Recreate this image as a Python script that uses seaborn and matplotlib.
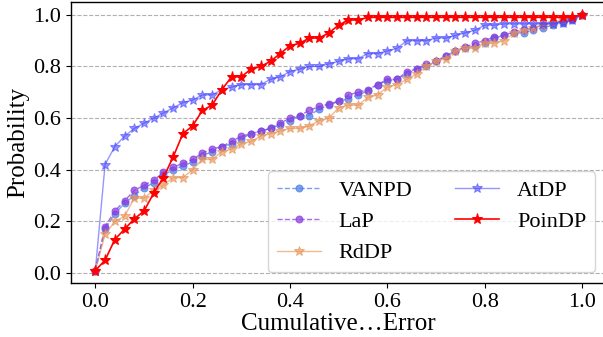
import matplotlib
matplotlib.use("Agg")
import matplotlib.pyplot as plt
import seaborn as sns
import numpy as np

# x grid of the cumulative error
x_vals = [0.00, 0.02, 0.04, 0.06, 0.08, 0.10, 0.12, 0.14, 0.16, 0.18,
          0.20, 0.22, 0.24, 0.26, 0.28, 0.30, 0.32, 0.34, 0.36, 0.38,
          0.40, 0.42, 0.44, 0.46, 0.48, 0.50, 0.52, 0.54, 0.56, 0.58,
          0.60, 0.62, 0.64, 0.66, 0.68, 0.70, 0.72, 0.74, 0.76, 0.78,
          0.80, 0.82, 0.84, 0.86, 0.88, 0.90, 0.92, 0.94, 0.96, 0.98, 1.00]

vanpd = [0.01, 0.17, 0.23, 0.27, 0.30, 0.33, 0.35, 0.38, 0.40, 0.415,
         0.43, 0.455, 0.47, 0.49, 0.50, 0.52, 0.54, 0.55, 0.56, 0.575,
         0.59, 0.61, 0.61, 0.635, 0.65, 0.665, 0.675, 0.69, 0.705, 0.73,
         0.745, 0.75, 0.77, 0.79, 0.80, 0.82, 0.84, 0.86, 0.87, 0.88,
         0.89, 0.91, 0.92, 0.93, 0.93, 0.94, 0.95, 0.96, 0.97, 0.98, 1.00]

lap = [0.01, 0.18, 0.24, 0.28, 0.32, 0.34, 0.36, 0.39, 0.41, 0.425,
       0.44, 0.465, 0.48, 0.49, 0.51, 0.53, 0.54, 0.55, 0.56, 0.58,
       0.60, 0.61, 0.63, 0.645, 0.655, 0.665, 0.69, 0.70, 0.71, 0.73,
       0.75, 0.75, 0.78, 0.79, 0.81, 0.82, 0.84, 0.86, 0.875, 0.89,
       0.90, 0.915, 0.92, 0.935, 0.94, 0.95, 0.96, 0.97, 0.975, 0.985, 1.00]

rddp = [0.01, 0.15, 0.20, 0.22, 0.29, 0.29, 0.32, 0.34, 0.37, 0.37,
        0.40, 0.44, 0.44, 0.47, 0.48, 0.50, 0.51, 0.53, 0.54, 0.55,
        0.56, 0.56, 0.57, 0.59, 0.60, 0.64, 0.65, 0.65, 0.68, 0.69,
        0.72, 0.73, 0.75, 0.77, 0.80, 0.82, 0.83, 0.86, 0.87, 0.87,
        0.89, 0.89, 0.90, 0.93, 0.94, 0.95, 0.96, 0.97, 0.98, 0.99, 1.00]

atdp = [0.01, 0.42, 0.49, 0.53, 0.56, 0.58, 0.60, 0.62, 0.64, 0.66,
        0.67, 0.69, 0.69, 0.71, 0.72, 0.73, 0.73, 0.73, 0.75, 0.76,
        0.78, 0.79, 0.80, 0.80, 0.81, 0.82, 0.83, 0.83, 0.85, 0.85,
        0.86, 0.87, 0.90, 0.90, 0.90, 0.91, 0.91, 0.92, 0.93, 0.94,
        0.96, 0.96, 0.965, 0.965, 0.965, 0.965, 0.965, 0.965, 0.97, 0.98, 1.00]

poindp = [0.01, 0.05, 0.13, 0.17, 0.21, 0.24, 0.31, 0.37, 0.45, 0.54,
          0.57, 0.63, 0.65, 0.71, 0.76, 0.76, 0.79, 0.80, 0.82, 0.85,
          0.88, 0.89, 0.91, 0.91, 0.93, 0.96, 0.98, 0.98, 0.99, 0.99,
          0.99, 0.99, 0.99, 0.99, 0.99, 0.99, 0.99, 0.99, 0.99, 0.99,
          0.99, 0.99, 0.99, 0.99, 0.99, 0.99, 0.99, 0.99, 0.99, 0.99, 1.00]

series_names = ["VANPD", "LaP", "RdDP", "AtDP", "PoinDP"]
series_values = [vanpd, lap, rddp, atdp, poindp]
tick_vals = [0.0, 0.2, 0.4, 0.6, 0.8, 1.0]
tick_labels = ["0.0", "0.2", "0.4", "0.6", "0.8", "1.0"]

plt.rcParams['font.family'] = 'serif'
plt.rcParams['font.serif'] = ['Liberation Serif', 'DejaVu Serif']

SERIF = 'Liberation Serif'

fig = plt.figure(figsize=(6.03, 3.37), dpi=100)
W, H = 603, 337
ax = fig.add_axes([71 / W, (H - 283.3) / H, 535.3 / W, 281.3 / H])

styles = {
    "VANPD": dict(color="#4f7fe8", marker="o", linestyle="--", alpha=0.75, markersize=5, linewidth=1.0),
    "LaP": dict(color="#8a3fe0", marker="o", linestyle="--", alpha=0.75, markersize=5, linewidth=1.0),
    "RdDP": dict(color="#e8955a", marker="*", linestyle="-", alpha=0.65, markersize=7.5, linewidth=1.0),
    "AtDP": dict(color="#4040ff", marker="*", linestyle="-", alpha=0.55, markersize=7.5, linewidth=1.0),
    "PoinDP": dict(color="#ff0000", marker="*", linestyle="-", alpha=1.0, markersize=8, linewidth=1.2),
}

for name, vals in zip(series_names, series_values):
    st = styles[name]
    sns.lineplot(x=x_vals, y=vals, ax=ax, label=name, sort=False, errorbar=None,
                 color=st["color"], marker=st["marker"], linestyle=st["linestyle"],
                 alpha=st["alpha"], markersize=st["markersize"], linewidth=st["linewidth"],
                 markeredgecolor=st["color"])

ax.set_xlim(-0.05, 1.05)
ax.set_ylim(-0.0395, 1.0495)
ax.set_xticks(tick_vals)
ax.set_yticks(tick_vals)
ax.set_xticklabels(tick_labels, fontfamily=SERIF, fontsize=16)
ax.set_yticklabels(tick_labels, fontfamily=SERIF, fontsize=16)
ax.yaxis.grid(True, linestyle="--", color="#b0b0b0", linewidth=0.8)
ax.set_axisbelow(True)
ax.set_xlabel("Cumulative\u2026Error", fontsize=18, labelpad=1, fontfamily=SERIF)
ax.set_ylabel("Probability", fontsize=18, labelpad=3, fontfamily=SERIF)
for s in ax.spines.values():
    s.set_linewidth(1.0)

ax.legend(ncol=2, loc="lower right", prop={'family': SERIF, 'size': 16}, frameon=True,
          handlelength=2.0, columnspacing=1.9, labelspacing=0.48)

fig.savefig("out.png", dpi=100)
